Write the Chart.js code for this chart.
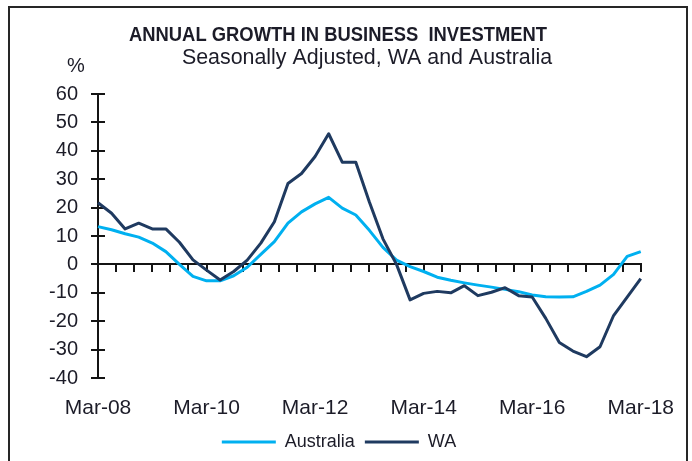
<!DOCTYPE html>
<html>
<head>
<meta charset="utf-8">
<title>Annual growth in business investment</title>
<script src="https://cdn.jsdelivr.net/npm/chart.js@4.4.1/dist/chart.umd.min.js"></script>
<style>
  body { margin: 0; background: #fff; }
  #wrap { position: relative; width: 692px; height: 461px; overflow: hidden; }
  #frame { position: absolute; left: 8px; top: 6px; width: 680px; height: 480px; border: 2px solid #262626; box-sizing: border-box; pointer-events: none; }
</style>
</head>
<body>
<div id="wrap">
  <canvas id="growthChart" width="692" height="461"></canvas>
  <div id="frame"></div>
</div>
<script>
// Quarterly, Mar-08 to Mar-18
const quarters = [
  'Mar-08', 'Jun-08', 'Sep-08', 'Dec-08', 'Mar-09', 'Jun-09', 'Sep-09', 'Dec-09',
  'Mar-10', 'Jun-10', 'Sep-10', 'Dec-10', 'Mar-11', 'Jun-11', 'Sep-11', 'Dec-11',
  'Mar-12', 'Jun-12', 'Sep-12', 'Dec-12', 'Mar-13', 'Jun-13', 'Sep-13', 'Dec-13',
  'Mar-14', 'Jun-14', 'Sep-14', 'Dec-14', 'Mar-15', 'Jun-15', 'Sep-15', 'Dec-15',
  'Mar-16', 'Jun-16', 'Sep-16', 'Dec-16', 'Mar-17', 'Jun-17', 'Sep-17', 'Dec-17',
  'Mar-18'
];
const yearLabels = ['Mar-08', 'Mar-10', 'Mar-12', 'Mar-14', 'Mar-16', 'Mar-18'];

// Annual growth, %
const australia = [
  13.3, 12.2, 10.8, 9.6, 7.5, 4.5, 0, -4.2,
  -5.8, -5.8, -4, -1, 3.5, 8, 14.5, 18.5,
  21.3, 23.6, 19.8, 17.4, 12, 6, 1.5, -0.8,
  -2.5, -4.5, -5.6, -6.5, -7.3, -8, -8.8, -9.6,
  -10.8, -11.4, -11.5, -11.4, -9.5, -7.3, -3.5, 2.8,
  4.5
];
const wa = [
  21.7, 18, 12.5, 14.5, 12.5, 12.5, 7.8, 1.6,
  -2, -5.5, -2.5, 1.5, 7.5, 15, 28.5, 32,
  38, 46, 36, 36, 22, 9, 0, -12.5,
  -10.2, -9.5, -10, -7.5, -11, -9.8, -8.2, -11,
  -11.5, -19, -27.5, -30.5, -32.5, -29, -18, -11.5,
  -5
];
const yTicks = [-40, -30, -20, -10, 0, 10, 20, 30, 40, 50, 60];

const titleText = 'ANNUAL GROWTH IN BUSINESS  INVESTMENT';
const subtitleText = 'Seasonally Adjusted, WA and Australia';

const textColor = '#1c1c28';
const axisColor = '#141414';
const fontFamily = '"Liberation Sans", Arial, sans-serif';

// heading lines and the % unit above the value axis
const headings = {
  id: 'headings',
  afterDraw(chart) {
    const ctx = chart.ctx;
    ctx.save();
    ctx.fillStyle = textColor;
    ctx.textAlign = 'center';
    ctx.textBaseline = 'alphabetic';
    // title is set in a slightly narrow bold face
    ctx.save();
    ctx.translate(338, 41);
    ctx.scale(0.92, 1);
    ctx.font = 'bold 20px ' + fontFamily;
    ctx.fillText(titleText, 0, 0);
    ctx.restore();
    ctx.font = '21.4px ' + fontFamily;
    ctx.fillText(subtitleText, 367, 64);
    ctx.font = '20px ' + fontFamily;
    ctx.fillText('%', 76, 72);
    ctx.restore();
  }
};

const ctx = document.getElementById('growthChart').getContext('2d');
const growthChart = new Chart(ctx, {
  type: 'line',
  data: {
    labels: quarters,
    datasets: [{
      label: 'Australia',
      data: australia,
      borderColor: '#00b0f0',
      backgroundColor: '#00b0f0',
      borderWidth: 3,
      pointRadius: 0,
      tension: 0,
      borderJoinStyle: 'round',
      order: 1
    }, {
      label: 'WA',
      data: wa,
      borderColor: '#1f3a60',
      backgroundColor: '#1f3a60',
      borderWidth: 3,
      pointRadius: 0,
      tension: 0,
      borderJoinStyle: 'round',
      order: 0
    }]
  },
  options: {
    responsive: false,
    animation: false,
    layout: {
      padding: { left: 37, right: 51, top: 94, bottom: 0 }
    },
    plugins: {
      legend: {
        position: 'bottom',
        labels: {
          usePointStyle: true,
          pointStyle: 'line',
          pointStyleWidth: 54,
          boxHeight: 3,
          padding: 10,
          color: textColor,
          font: { family: fontFamily, size: 18 },
          sort: (a, b) => a.datasetIndex - b.datasetIndex
        }
      },
      tooltip: { enabled: false }
    },
    scales: {
      x: {
        type: 'category',
        offset: false,
        afterFit: (scale) => { scale.height = 45; },
        grid: { display: false, drawTicks: false },
        border: { display: false },
        ticks: {
          autoSkip: false,
          maxRotation: 0,
          minRotation: 0,
          padding: 18,
          color: textColor,
          font: { family: fontFamily, size: 21 },
          callback: function (value) {
            const label = this.getLabelForValue(value);
            return yearLabels.includes(label) ? label : '';
          }
        }
      },
      // zero line with monthly-spaced tick marks
      x2: {
        type: 'linear',
        min: 0,
        max: 120,
        position: { y: 0 },
        grid: { drawOnChartArea: false, drawTicks: true, tickLength: 7, lineWidth: 2, color: axisColor },
        border: { display: true, color: axisColor, width: 2 },
        ticks: { display: false, stepSize: 4, maxTicksLimit: 100 }
      },
      y: {
        position: 'left',
        min: yTicks[0],
        max: yTicks[yTicks.length - 1],
        afterFit: (scale) => { scale.width = 61; },
        grid: { drawOnChartArea: false, drawTicks: true, tickLength: 7, lineWidth: 2, color: axisColor },
        border: { display: true, color: axisColor, width: 2 },
        ticks: {
          stepSize: yTicks[1] - yTicks[0],
          padding: 13,
          color: textColor,
          font: { family: fontFamily, size: 20 }
        }
      },
      // inner half of the crossing tick marks on the value axis
      y2: {
        type: 'linear',
        min: yTicks[0],
        max: yTicks[yTicks.length - 1],
        position: { x: 0 },
        grid: { drawOnChartArea: false, drawTicks: true, tickLength: -7, lineWidth: 2, color: axisColor },
        border: { display: false },
        ticks: { display: false, stepSize: yTicks[1] - yTicks[0] }
      }
    }
  },
  plugins: [headings]
});
</script>
</body>
</html>
